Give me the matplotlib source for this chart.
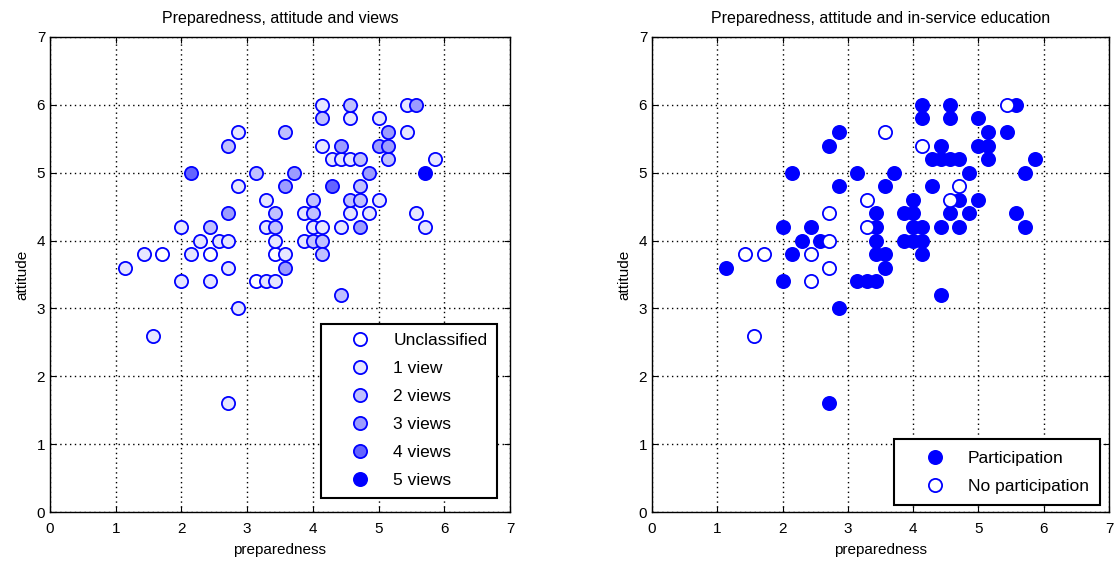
import numpy as np
import matplotlib
matplotlib.use("Agg")
import matplotlib.pyplot as plt

plt.rcParams["font.family"] = ["Liberation Sans", "DejaVu Sans"]

preparedness = [2.86, 3.57, 2.71, 2.14, 3.14, 3.71, 2.86, 3.57, 3.29, 3.43,
                2.71, 2.00, 2.43, 3.29, 3.43, 2.29, 2.57, 2.71, 3.43, 1.43,
                1.71, 2.14, 2.43, 3.43, 3.57, 1.14, 2.71, 3.57, 2.00, 2.43,
                3.14, 3.29, 3.43, 2.86, 1.57, 2.71, 4.14, 4.57, 5.43, 5.57,
                4.14, 4.57, 5.00, 5.14, 5.43, 4.14, 4.43, 5.00, 5.14, 4.29,
                4.43, 4.57, 4.71, 5.14, 5.86, 4.86, 5.71, 4.29, 4.71, 4.00,
                4.57, 4.71, 5.00, 3.86, 4.00, 4.57, 4.86, 5.57, 4.00, 4.14,
                4.43, 4.71, 5.71, 3.86, 4.00, 4.14, 4.14, 4.43]
attitude = [5.6, 5.6, 5.4, 5.0, 5.0, 5.0, 4.8, 4.8, 4.6, 4.4,
            4.4, 4.2, 4.2, 4.2, 4.2, 4.0, 4.0, 4.0, 4.0, 3.8,
            3.8, 3.8, 3.8, 3.8, 3.8, 3.6, 3.6, 3.6, 3.4, 3.4,
            3.4, 3.4, 3.4, 3.0, 2.6, 1.6, 6.0, 6.0, 6.0, 6.0,
            5.8, 5.8, 5.8, 5.6, 5.6, 5.4, 5.4, 5.4, 5.4, 5.2,
            5.2, 5.2, 5.2, 5.2, 5.2, 5.0, 5.0, 4.8, 4.8, 4.6,
            4.6, 4.6, 4.6, 4.4, 4.4, 4.4, 4.4, 4.4, 4.2, 4.2,
            4.2, 4.2, 4.2, 4.0, 4.0, 4.0, 3.8, 3.2]
# number of views (0 = unclassified)
views = [1, 2, 2, 4, 2, 3, 1, 3, 1, 2,
         3, 1, 2, 1, 2, 1, 1, 1, 1, 1,
         0, 1, 0, 0, 1, 1, 1, 3, 1, 1,
         0, 1, 1, 1, 1, 1, 1, 2, 1, 3,
         2, 1, 1, 3, 1, 1, 3, 3, 3, 1,
         1, 1, 2, 2, 1, 3, 5, 4, 2, 2,
         2, 2, 1, 1, 2, 1, 1, 1, 1, 1,
         1, 3, 1, 1, 2, 2, 2, 2]
# in-service education: 1 = participation, 0 = none
participation = [1, 0, 1, 1, 1, 1, 1, 1, 0, 1,
                 0, 1, 1, 0, 1, 1, 1, 0, 1, 0,
                 0, 1, 0, 1, 1, 1, 0, 1, 1, 0,
                 1, 1, 1, 1, 0, 1, 1, 1, 0, 1,
                 1, 1, 1, 1, 1, 0, 1, 1, 1, 1,
                 1, 1, 1, 1, 1, 1, 1, 1, 0, 1,
                 0, 1, 1, 1, 1, 1, 1, 1, 1, 1,
                 1, 1, 1, 1, 1, 1, 1, 1]

view_labels = ["Unclassified", "1 view", "2 views", "3 views", "4 views", "5 views"]
view_colors = ["#ffffff", "#e6e6ff", "#c0c0ff", "#9c9cff", "#6464ff", "#0000ff"]
edu_labels = ["Participation", "No participation"]

x = np.array(preparedness)
y = np.array(attitude)
v = np.array(views)
p = np.array(participation)

ms = 9.5
mew = 1.3

fig = plt.figure(figsize=(11.15, 5.64), dpi=100)
ax1 = fig.add_axes([50 / 1115, 52 / 564, 460 / 1115, 475 / 564])
ax2 = fig.add_axes([652 / 1115, 52 / 564, 457 / 1115, 475 / 564])

for k in range(6):
    m = v == k
    ax1.plot(x[m], y[m], "o", ms=ms, mfc=view_colors[k], mec="#0000ff", mew=mew,
             label=view_labels[k])

ax2.plot(x[p == 1], y[p == 1], "o", ms=ms, mfc="#0000ff", mec="#0000ff", mew=mew,
         label=edu_labels[0])
ax2.plot(x[p == 0], y[p == 0], "o", ms=ms, mfc="white", mec="#0000ff", mew=mew,
         label=edu_labels[1])

titles = ["Preparedness, attitude and views",
          "Preparedness, attitude and in-service education"]
for ax, t in zip([ax1, ax2], titles):
    ax.set_xlim(0, 7)
    ax.set_ylim(0, 7)
    ax.set_xticks(range(8))
    ax.set_yticks(range(8))
    ax.grid(True, color="black", linestyle=(0, (1, 2.5)), linewidth=1.0)
    ax.set_axisbelow(True)
    ax.tick_params(direction="in", top=True, right=True, labelsize=11, length=4)
    ax.tick_params(axis="x", pad=7)
    for s in ax.spines.values():
        s.set_linewidth(1.0)
    ax.set_title(t, fontsize=11.5, pad=10)
    ax.set_xlabel("preparedness", fontsize=11, labelpad=5)
    ax.set_ylabel("attitude", fontsize=11, labelpad=5)

leg_kw = dict(loc="lower right", fontsize=12.5, fancybox=False, edgecolor="black",
              framealpha=1, labelspacing=0.74, handlelength=3.4, handletextpad=0.2,
              borderaxespad=0, numpoints=1)
leg1 = ax1.legend(bbox_to_anchor=(0.972, 0.03), borderpad=0.55, **leg_kw)
leg1.get_frame().set_linewidth(1.5)
leg2 = ax2.legend(bbox_to_anchor=(0.98, 0.015), borderpad=0.65, **leg_kw)
leg2.get_frame().set_linewidth(1.5)

fig.savefig("out.png", dpi=100)
